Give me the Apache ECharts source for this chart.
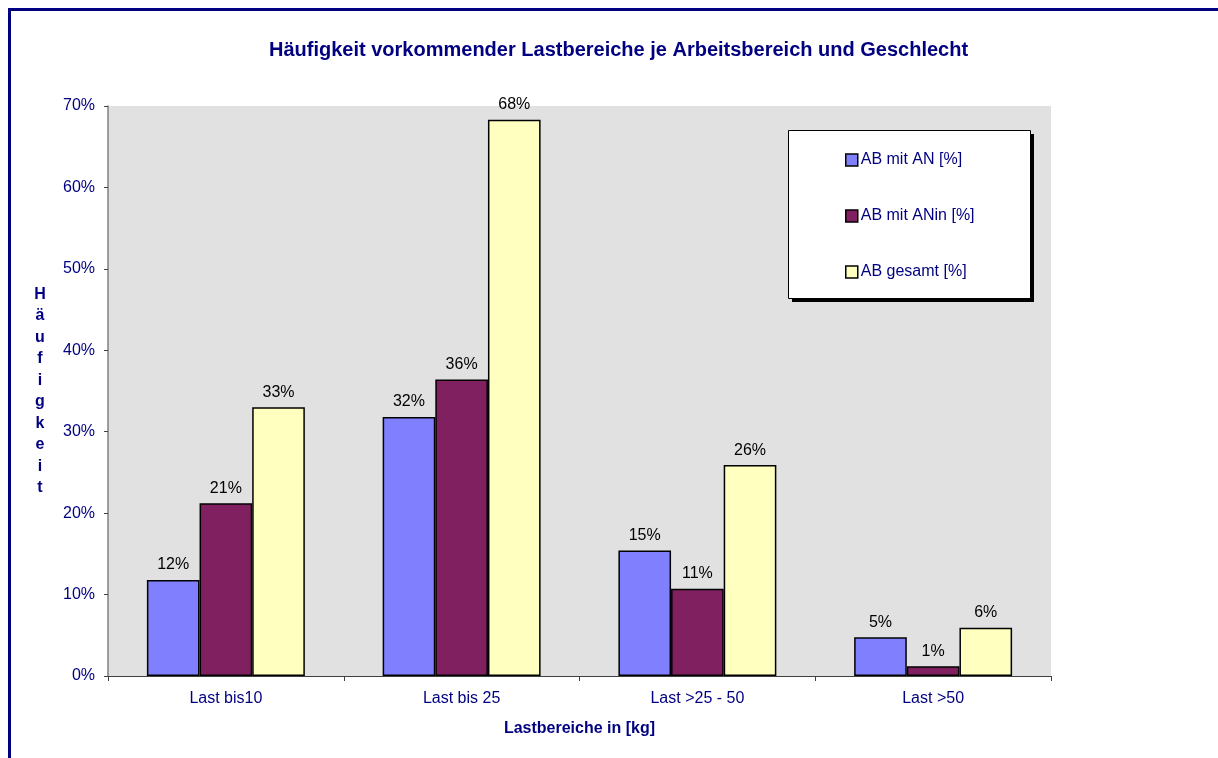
<!DOCTYPE html>
<html>
<head>
<meta charset="utf-8">
<title>Häufigkeit vorkommender Lastbereiche</title>
<script src="https://cdn.jsdelivr.net/npm/echarts@6/dist/echarts.min.js"></script>
<style>
  html, body { margin: 0; padding: 0; background: #fff; }
  #chart { width: 1218px; height: 758px; }
</style>
</head>
<body>
<div id="chart"></div>
<script>
// Lastbereiche (x-axis categories)
const categories = ['Last bis10', 'Last bis 25', 'Last >25 - 50', 'Last >50']
// series values in percent
const abMitAN = [11.8, 31.8, 15.4, 4.75]
const abMitANin = [21.2, 36.4, 10.7, 1.2]
const abGesamt = [33.0, 68.3, 25.9, 5.93]
const seriesNames = ['AB mit AN [%]', 'AB mit ANin [%]', 'AB gesamt [%]']
const yTicks = [0, 10, 20, 30, 40, 50, 60, 70]

const navy = '#000080'
const font = 'Liberation Sans, Arial, sans-serif'

const chart = echarts.init(document.getElementById('chart'))

const labelOpt = {
  show: true,
  position: 'top',
  distance: 7,
  color: '#000',
  fontFamily: font,
  fontSize: 16,
  formatter: p => Math.round(p.value) + '%',
}

function makeBar(name, data, color) {
  return {
    name: name,
    type: 'bar',
    data: data,
    barGap: '0%',
    barCategoryGap: '33%',
    itemStyle: { color: color, borderColor: '#000', borderWidth: 1.5 },
    label: labelOpt,
  }
}

const option = {
  backgroundColor: '#fff',
  animation: false,
  textStyle: { fontFamily: font },
  title: {
    text: 'Häufigkeit vorkommender Lastbereiche je Arbeitsbereich und Geschlecht',
    left: 264,
    top: 35,
    textStyle: { color: navy, fontSize: 20, fontWeight: 'bold', fontFamily: font },
  },
  graphic: [
    // outer frame
    {
      type: 'rect',
      shape: { x: 9.5, y: 9.5, width: 1400, height: 900 },
      style: { fill: 'none', stroke: navy, lineWidth: 3 },
      silent: true,
      z: 10,
    },
    // legend box shadow + box
    {
      type: 'rect',
      shape: { x: 792, y: 134, width: 242, height: 168 },
      style: { fill: '#000' },
      z: 5,
    },
    {
      type: 'rect',
      shape: { x: 788.5, y: 130.5, width: 242, height: 168 },
      style: { fill: '#fff', stroke: '#000', lineWidth: 1 },
      z: 6,
    },
  ],
  legend: {
    orient: 'vertical',
    left: 845,
    top: 152,
    padding: 0,
    itemGap: 40,
    itemWidth: 12,
    itemHeight: 12,
    icon: 'rect',
    z: 7,
    itemStyle: { borderColor: '#000', borderWidth: 1.5 },
    textStyle: { color: navy, fontSize: 16, lineHeight: 16, padding: [0, 0, 0, -2], fontFamily: font },
    data: seriesNames,
  },
  grid: {
    left: 108,
    top: 106,
    width: 943,
    height: 570,
    show: true,
    backgroundColor: '#e1e1e1',
    borderWidth: 0,
  },
  xAxis: {
    type: 'category',
    data: categories,
    name: 'Lastbereiche in [kg]',
    nameLocation: 'middle',
    nameGap: 45,
    nameTextStyle: { color: navy, fontSize: 16, fontWeight: 'bold', fontFamily: font },
    axisLine: { lineStyle: { color: '#404040', width: 1 } },
    axisTick: { show: true, length: 5, lineStyle: { color: '#404040' } },
    axisLabel: { color: navy, fontSize: 16, margin: 15, fontFamily: font },
  },
  yAxis: {
    type: 'value',
    min: yTicks[0],
    max: yTicks[yTicks.length - 1],
    interval: yTicks[1] - yTicks[0],
    name: 'Häufigkeit'.split('').join('\n'),
    nameLocation: 'middle',
    nameRotate: 0,
    nameGap: 68,
    nameTextStyle: {
      color: navy, fontSize: 16, fontWeight: 'bold', lineHeight: 21.5,
      align: 'center', verticalAlign: 'middle', fontFamily: font,
    },
    splitLine: { show: false },
    axisLine: { show: true, lineStyle: { color: '#808080', width: 1.5 } },
    axisTick: { show: true, length: 4, lineStyle: { color: '#404040' } },
    axisLabel: { color: navy, fontSize: 16, margin: 13, formatter: '{value}%', fontFamily: font },
  },
  series: [
    makeBar(seriesNames[0], abMitAN, '#8080ff'),
    makeBar(seriesNames[1], abMitANin, '#802060'),
    makeBar(seriesNames[2], abGesamt, '#ffffc0'),
  ],
}

chart.setOption(option)
</script>
</body>
</html>
